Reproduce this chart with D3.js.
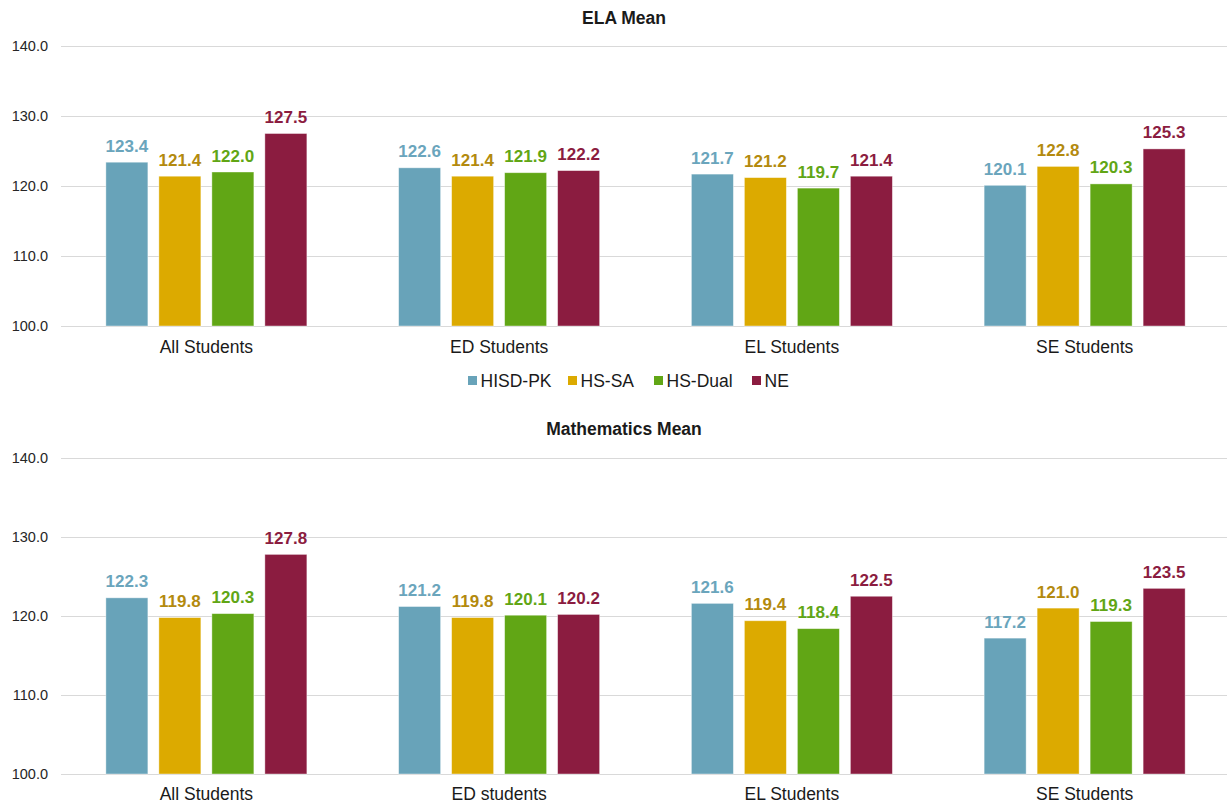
<!DOCTYPE html>
<html>
<head>
<meta charset="utf-8">
<script src="https://cdn.jsdelivr.net/npm/d3@7"></script>
<style>
  body { margin: 0; background: #fff; font-family: "Liberation Sans", Arial, sans-serif; }
</style>
</head>
<body>
<div id="chart"></div>
<script>
// DATA
const series = ["HISD-PK", "HS-SA", "HS-Dual", "NE"];
const elaGroups = ["All Students", "ED Students", "EL Students", "SE Students"];
const mathGroups = ["All Students", "ED students", "EL Students", "SE Students"];
const elaValues = [
  [123.4, 121.4, 122.0, 127.5],
  [122.6, 121.4, 121.9, 122.2],
  [121.7, 121.2, 119.7, 121.4],
  [120.1, 122.8, 120.3, 125.3]
];
const mathValues = [
  [122.3, 119.8, 120.3, 127.8],
  [121.2, 119.8, 120.1, 120.2],
  [121.6, 119.4, 118.4, 122.5],
  [117.2, 121.0, 119.3, 123.5]
];
const yTicks = [100, 110, 120, 130, 140];

// CONSTANTS
const width = 1227;
const height = 803;
const barColors = ["#68a3b9", "#dcaa00", "#61a615", "#8b1c40"];
const labelColors = ["#6aa5bc", "#b38a0e", "#61a615", "#8b1c40"];

const svg = d3.select("#chart").append("svg")
  .attr("width", width)
  .attr("height", height);

function drawPanel(title, groups, values, top, bottom, titleY, catY) {
  const xScale = d3.scaleBand()
    .domain(groups)
    .range([60, 1231])
    .paddingInner(0)
    .paddingOuter(0);

  const yScale = d3.scaleLinear()
    .domain([100, 140])
    .range([bottom, top]);

  // inner scale for the four series
  const xInner = d3.scaleBand()
    .domain(series)
    .range([0, 201])
    .paddingInner(0.2075)
    .paddingOuter(0);

  const g = svg.append("g");

  // gridlines
  g.selectAll(".grid")
    .data(yTicks)
    .join("line")
    .attr("class", "grid")
    .attr("x1", 61)
    .attr("x2", width)
    .attr("y1", d => yScale(d) + 0.5)
    .attr("y2", d => yScale(d) + 0.5)
    .attr("stroke", "#d9d9d9")
    .attr("stroke-width", 1);

  // y axis labels
  const yAxis = d3.axisLeft(yScale)
    .tickValues(yTicks)
    .tickFormat(d3.format(".1f"))
    .tickSize(0)
    .tickPadding(0);

  const yAxisGroup = g.append("g")
    .attr("transform", `translate(${48},0)`)
    .call(yAxis);
  yAxisGroup.select(".domain").remove();
  yAxisGroup.selectAll("text")
    .attr("font-family", "Liberation Sans, Arial, sans-serif")
    .attr("font-size", 14.5)
    .attr("fill", "#262626");

  // title
  g.append("text")
    .attr("x", 624)
    .attr("y", titleY)
    .attr("text-anchor", "middle")
    .attr("font-size", 17.5)
    .attr("font-weight", "bold")
    .attr("fill", "#1a1a1a")
    .text(title);

  // bars
  const groupSel = g.selectAll(".group")
    .data(values.map((vals, i) => ({ cat: groups[i], vals: vals })))
    .join("g")
    .attr("class", "group")
    .attr("transform", d => `translate(${xScale(d.cat) + xScale.bandwidth() / 2 - 100.5},0)`);

  groupSel.selectAll("rect")
    .data(d => d.vals.map((v, j) => ({ s: series[j], v: v, j: j })))
    .join("rect")
    .attr("x", d => xInner(d.s))
    .attr("width", xInner.bandwidth())
    .attr("y", d => yScale(d.v))
    .attr("height", d => yScale(100) - yScale(d.v))
    .attr("fill", d => barColors[d.j])
    .attr("stroke", "#ffffff")
    .attr("stroke-opacity", 0.5)
    .attr("stroke-width", 0.8);

  groupSel.selectAll(".val")
    .data(d => d.vals.map((v, j) => ({ s: series[j], v: v, j: j })))
    .join("text")
    .attr("class", "val")
    .attr("x", d => xInner(d.s) + xInner.bandwidth() / 2)
    .attr("y", d => yScale(d.v) - 10.5)
    .attr("text-anchor", "middle")
    .attr("font-size", 17)
    .attr("font-weight", "bold")
    .attr("fill", d => labelColors[d.j])
    .text(d => d3.format(".1f")(d.v));

  // category labels
  g.selectAll(".cat")
    .data(groups)
    .join("text")
    .attr("class", "cat")
    .attr("x", d => xScale(d) + xScale.bandwidth() / 2)
    .attr("y", catY)
    .attr("text-anchor", "middle")
    .attr("font-size", 17.5)
    .attr("fill", "#1a1a1a")
    .text(d => d);
}

drawPanel("ELA Mean", elaGroups, elaValues, 46, 326, 24, 353);
drawPanel("Mathematics Mean", mathGroups, mathValues, 458, 774, 435, 800);

// LEGEND
const legendX = [468, 568, 654, 752];
const legend = svg.append("g");
series.forEach((s, i) => {
  legend.append("rect")
    .attr("x", legendX[i])
    .attr("y", 376)
    .attr("width", 9)
    .attr("height", 9)
    .attr("fill", barColors[i]);
  legend.append("text")
    .attr("x", legendX[i] + 12.5)
    .attr("y", 386.5)
    .attr("font-size", 17.5)
    .attr("fill", "#1a1a1a")
    .text(s);
});
</script>
</body>
</html>
